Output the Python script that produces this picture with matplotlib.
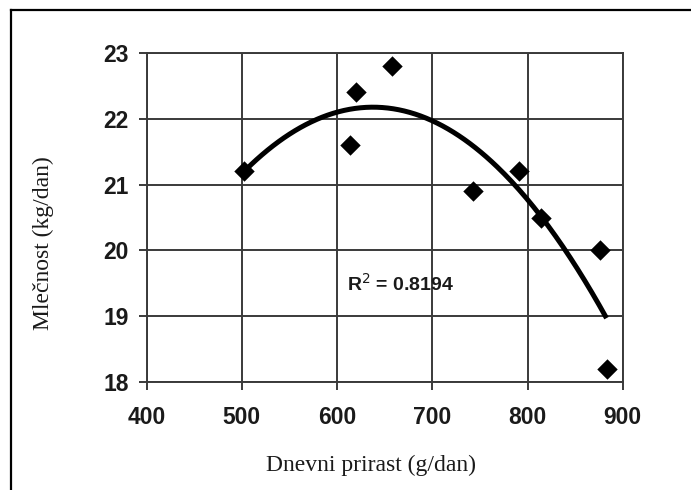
import numpy as np
import matplotlib
matplotlib.use("Agg")
import matplotlib.pyplot as plt
from matplotlib.lines import Line2D

# Data
prirast = [502, 614, 620, 658, 743, 791, 814, 876, 883]
mlecnost = [21.2, 21.6, 22.4, 22.8, 20.9, 21.2, 20.5, 20.0, 18.2]
x_ticks = [400, 500, 600, 700, 800, 900]
y_ticks = [18, 19, 20, 21, 22, 23]
r2_label = "R$^2$ = 0.8194"
x_label = "Dnevni prirast (g/dan)"
y_label = "Mlečnost (kg/dan)"

W, H = 691, 490
fig = plt.figure(figsize=(W / 100, H / 100), dpi=100)
left, right, top, bottom = 146.7, 622.7, 52.7, 382.3
ax = fig.add_axes([left / W, 1 - bottom / H, (right - left) / W, (bottom - top) / H])

grid_col = "#3a3a3a"
ax.set_xlim(400, 900)
ax.set_ylim(18, 23)
ax.set_xticks(x_ticks)
ax.set_yticks(y_ticks)
ax.grid(True, color=grid_col, linewidth=1.4)
ax.set_axisbelow(True)
for s in ax.spines.values():
    s.set_color(grid_col)
    s.set_linewidth(1.4)
ax.tick_params(direction="out", length=6, width=1.4, color=grid_col)
ax.tick_params(axis="x", pad=11)
ax.tick_params(axis="y", pad=7)
for lbl in ax.get_xticklabels() + ax.get_yticklabels():
    lbl.set_fontfamily("Liberation Sans")
    lbl.set_fontweight("bold")
    lbl.set_fontsize(16.5)
    lbl.set_color("#1a1a1a")

# quadratic trend line fitted to the data
x = np.array(prirast, dtype=float)
y = np.array(mlecnost, dtype=float)
coef = np.polyfit(x, y, 2)
xs = np.linspace(x.min(), x.max(), 200)
ax.plot(xs, np.polyval(coef, xs), color="black", linewidth=3.6, solid_capstyle="butt", zorder=3)

ax.scatter(x, y, marker="D", s=108, color="black", linewidths=0, zorder=4, clip_on=False)

ax.text(610.5, 19.5, r2_label, fontfamily="Liberation Sans", fontweight="bold",
        fontsize=14, va="center", ha="left", color="#1a1a1a")

fig.text(371 / W, 1 - 465 / H, x_label, fontfamily="Liberation Serif",
         fontsize=17, ha="center", va="center", color="#1a1a1a")
fig.text(43 / W, 1 - 243 / H, y_label, fontfamily="Liberation Serif",
         fontsize=17, ha="center", va="center", rotation=90, color="#1a1a1a")

# outer frame (left and top edges)
fig.add_artist(Line2D([11 / W, 11 / W], [0, 1 - 10 / H], color="black", linewidth=1.6,
                      transform=fig.transFigure))
fig.add_artist(Line2D([11 / W, 1], [1 - 10 / H, 1 - 10 / H], color="black", linewidth=1.6,
                      transform=fig.transFigure))

fig.savefig("out.png", dpi=100)
